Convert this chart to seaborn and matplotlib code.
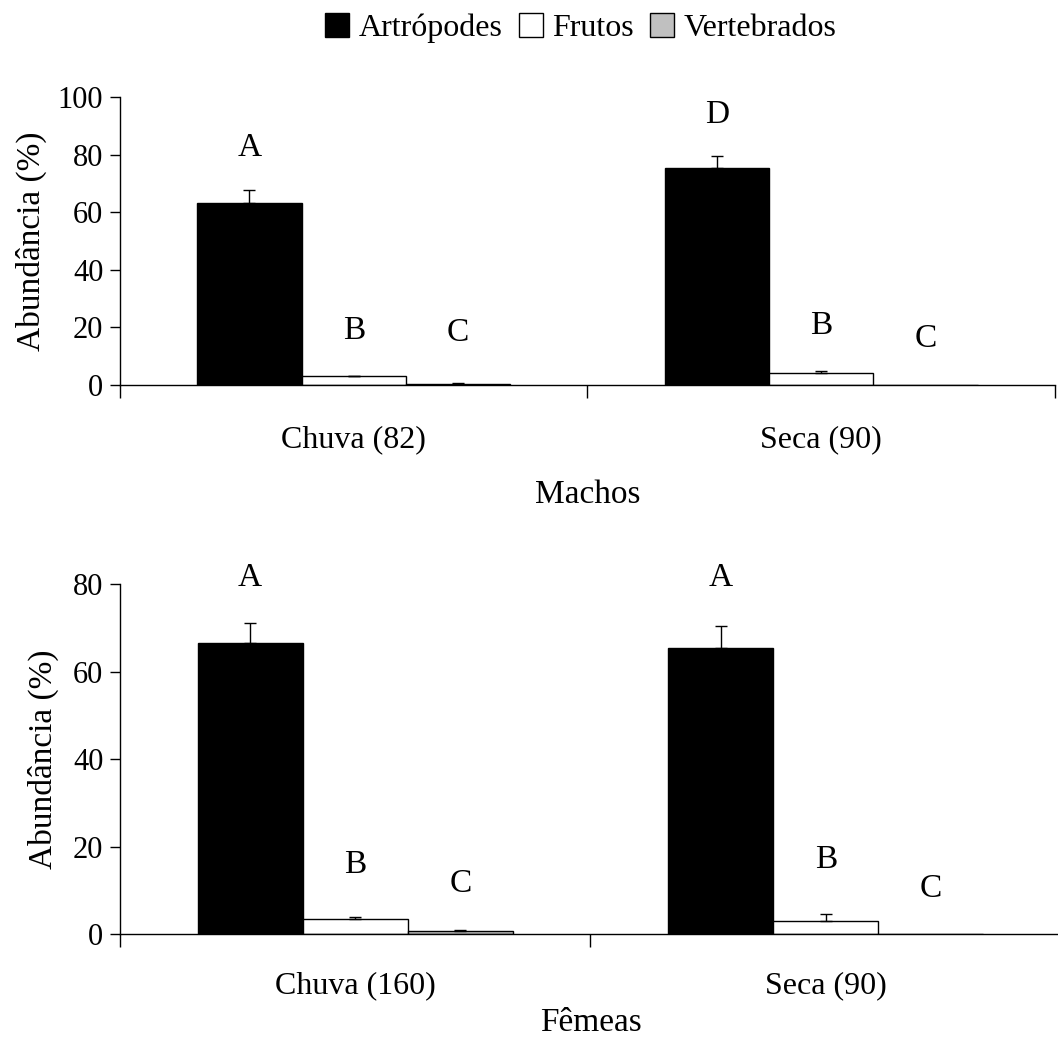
import numpy as np
import pandas as pd
import matplotlib
matplotlib.use("Agg")
import matplotlib.pyplot as plt
import seaborn as sns

# data
items = ["Artrópodes", "Frutos", "Vertebrados"]
machos_seasons = ["Chuva (82)", "Seca (90)"]
machos_values = [[63.3, 3.1, 0.3], [75.2, 4.0, 0.05]]
machos_errors = [[4.3, 0.2, 0.4], [4.2, 1.0, 0.0]]
machos_letters = [["A", "B", "C"], ["D", "B", "C"]]
machos_letter_y = [[82.5, 19.0, 18.0], [94.0, 20.5, 16.0]]

femeas_seasons = ["Chuva (160)", "Seca (90)"]
femeas_values = [[66.6, 3.5, 0.6], [65.4, 3.0, 0.05]]
femeas_errors = [[4.6, 0.4, 0.4], [4.9, 1.6, 0.0]]
femeas_letters = [["A", "B", "C"], ["A", "B", "C"]]
femeas_letter_y = [[81.4, 15.8, 11.4], [81.4, 17.0, 10.3]]

colors = ["#000000", "#FFFFFF", "#C0C0C0"]

sns.set_theme(style="white")
plt.rcParams["font.family"] = ["Liberation Serif", "DejaVu Serif"]
plt.rcParams["text.color"] = "black"
plt.rcParams["axes.labelcolor"] = "black"
plt.rcParams["xtick.color"] = "black"
plt.rcParams["ytick.color"] = "black"


def make_frame(seasons, values):
    rows = []
    for s, vals in zip(seasons, values):
        for it, v in zip(items, vals):
            rows.append({"season": s, "item": it, "value": v})
    return pd.DataFrame(rows)


def draw_panel(ax, seasons, values, errors, letters, letter_y, ymax, xlabel,
               tick_pad, label_pad, ylabel_pad):
    df = make_frame(seasons, values)
    sns.barplot(data=df, x="season", y="value", hue="item", hue_order=items,
                palette=colors, edgecolor="black", linewidth=1.0,
                width=0.67, errorbar=None, legend=False, ax=ax)
    # patches come ordered by hue then by category
    for h in range(len(items)):
        for c in range(len(seasons)):
            bar = ax.patches[h * len(seasons) + c]
            xc = bar.get_x() + bar.get_width() / 2
            v = values[c][h]
            e = errors[c][h]
            if e > 0:
                ax.errorbar(xc, v, yerr=[[0], [e]], fmt="none", ecolor="black",
                            elinewidth=1.0, capsize=4.5, capthick=1.0)
            ax.text(xc, letter_y[c][h], letters[c][h], ha="center", va="center",
                    fontsize=24)
    ax.set_xlim(-0.5, len(seasons) - 0.5)
    ax.set_ylim(0, ymax)
    ax.set_yticks(np.arange(0, ymax + 1, 20))
    ax.tick_params(axis="y", direction="out", length=7, width=1, labelsize=22,
                   left=True, pad=5)
    ax.set_xticks(np.arange(-0.5, len(seasons), 1.0))
    ax.set_xticklabels([])
    ax.tick_params(axis="x", which="major", direction="out", length=9, width=1,
                   bottom=True)
    ax.set_xticks(np.arange(len(seasons)), minor=True)
    ax.set_xticklabels(seasons, minor=True, fontsize=23)
    ax.tick_params(axis="x", which="minor", length=0, pad=tick_pad)
    ax.set_xlabel(xlabel, fontsize=24, labelpad=label_pad)
    ax.set_ylabel("Abundância (%)", fontsize=24, labelpad=ylabel_pad)
    for side in ["top", "right"]:
        ax.spines[side].set_visible(False)
    for side in ["left", "bottom"]:
        ax.spines[side].set_color("black")
        ax.spines[side].set_linewidth(1.0)


fig = plt.figure(figsize=(10.58, 10.42), dpi=100)
ax1 = fig.add_axes([0.1134, 0.6305, 0.8837, 0.2764])
ax2 = fig.add_axes([0.1134, 0.1036, 0.8894, 0.3359])

draw_panel(ax1, machos_seasons, machos_values, machos_errors, machos_letters,
           machos_letter_y, 100, "Machos", 29, 18, 8)
draw_panel(ax2, femeas_seasons, femeas_values, femeas_errors, femeas_letters,
           femeas_letter_y, 80, "Fêmeas", 27, 5, 10)

handles = [plt.Rectangle((0, 0), 1, 1, facecolor=c, edgecolor="black", linewidth=1.0)
           for c in colors]
fig.legend(handles, items, loc="center", bbox_to_anchor=(0.549, 0.973), ncol=3,
           frameon=False, fontsize=23, handlelength=0.75, handleheight=0.75,
           handletextpad=0.3, columnspacing=0.5)

fig.savefig("out.png", dpi=100, facecolor="white")
